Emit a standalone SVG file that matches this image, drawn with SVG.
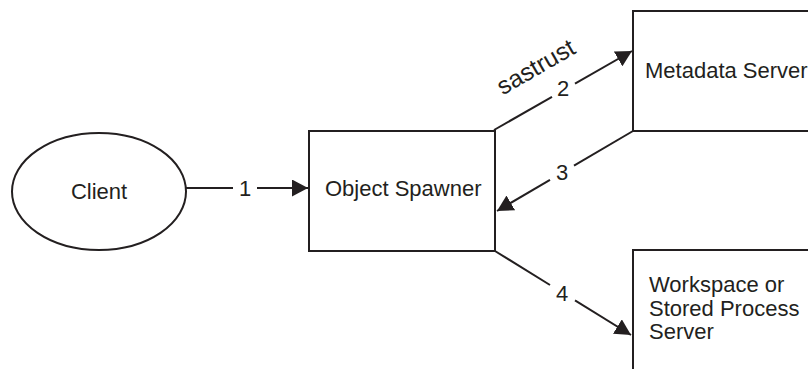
<svg xmlns="http://www.w3.org/2000/svg" width="808" height="369" viewBox="0 0 808 369">
<style>
.shape{fill:#ffffff;stroke:#231f20;stroke-width:2}
.conn{fill:none;stroke:#231f20;stroke-width:2}
text{font-family:"Liberation Sans",Arial,sans-serif;font-size:22px;fill:#231f20}
.mid{text-anchor:middle}
.big{font-size:24.5px}
</style>
<defs>
<marker id="arrow" markerUnits="userSpaceOnUse" markerWidth="17" markerHeight="17" refX="16" refY="8.5" orient="auto">
<path d="M0,0 L16,8.5 L0,17 z" fill="#231f20"/>
</marker>
</defs>
<rect width="808" height="369" fill="#ffffff"/>
<g id="client">
<ellipse class="shape" cx="99" cy="191.5" rx="87" ry="58.5"/>
<text class="mid" x="99" y="199">Client</text>
</g>
<g id="object-spawner">
<rect class="shape" x="309" y="131" width="186" height="120"/>
<text x="325" y="196">Object Spawner</text>
</g>
<g id="metadata-server">
<rect class="shape" x="633" y="11" width="200" height="120"/>
<text x="645" y="78">Metadata Server</text>
</g>
<g id="workspace-server">
<rect class="shape" x="633" y="250" width="200" height="140"/>
<text x="649" y="292">Workspace or</text>
<text x="649" y="315.5">Stored Process</text>
<text x="649" y="339">Server</text>
</g>
<g id="connectors">
<line class="conn" x1="186" y1="188" x2="233" y2="188"/>
<line class="conn" x1="257" y1="188" x2="308" y2="188" marker-end="url(#arrow)"/>
<text class="mid" x="245" y="196">1</text>
<line class="conn" x1="494" y1="130" x2="552" y2="96.8"/>
<line class="conn" x1="575" y1="83.6" x2="632" y2="51" marker-end="url(#arrow)"/>
<text class="mid" x="563" y="96">2</text>
<text class="mid big" transform="translate(540,74) rotate(-30)">sastrust</text>
<line class="conn" x1="633" y1="131" x2="574" y2="165.7"/>
<line class="conn" x1="550" y1="179.8" x2="497" y2="211" marker-end="url(#arrow)"/>
<text class="mid" x="562" y="180">3</text>
<line class="conn" x1="495" y1="251" x2="550" y2="285"/>
<line class="conn" x1="575" y1="300.4" x2="631" y2="335" marker-end="url(#arrow)"/>
<text class="mid" x="562" y="301">4</text>
</g>
</svg>
